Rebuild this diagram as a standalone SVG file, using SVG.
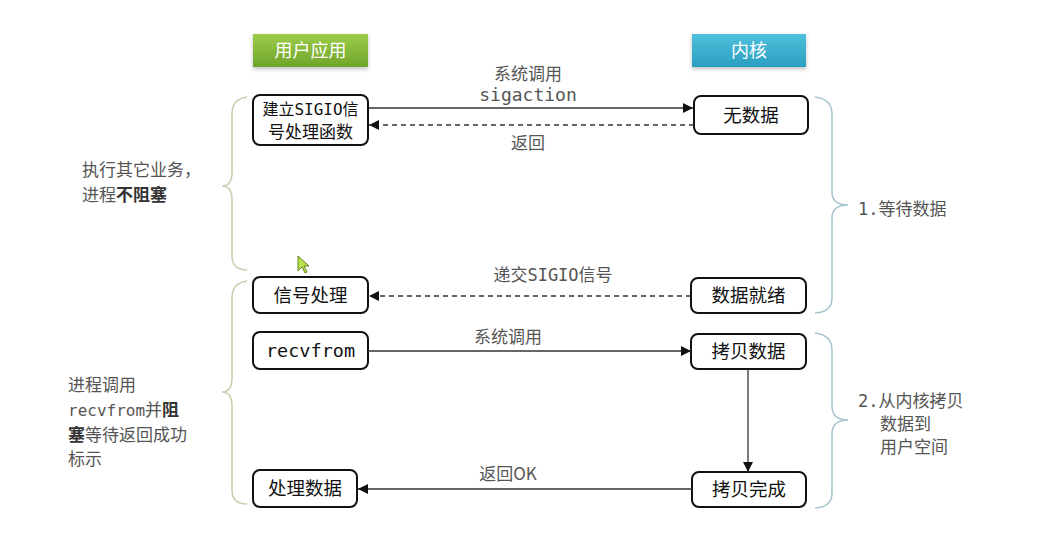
<svg xmlns="http://www.w3.org/2000/svg" width="1062" height="554" viewBox="0 0 1062 554">
  <defs>
    <linearGradient id="gGreen" x1="0" y1="0" x2="0" y2="1">
      <stop offset="0" stop-color="#9ccc4a"/>
      <stop offset="1" stop-color="#6fa52a"/>
    </linearGradient>
    <linearGradient id="gBlue" x1="0" y1="0" x2="0" y2="1">
      <stop offset="0" stop-color="#4fc0dc"/>
      <stop offset="1" stop-color="#2a9ec0"/>
    </linearGradient>
    <filter id="shadow" x="-10%" y="-20%" width="120%" height="150%">
      <feDropShadow dx="0" dy="2" stdDeviation="2" flood-color="#000" flood-opacity="0.25"/>
    </filter>
    <marker id="arrow" viewBox="0 0 10 10" refX="10" refY="5" markerWidth="10" markerHeight="10" markerUnits="userSpaceOnUse" orient="auto">
      <path d="M0,0 L10,5 L0,10 z" fill="#111"/>
    </marker>
  </defs>
  <style>
    .node rect { fill: #fff; stroke: #111; stroke-width: 2; }
    .nt { font-family: "Liberation Sans", "Noto Sans CJK SC", sans-serif; font-size: 18.5px; fill: #111; text-anchor: middle; }
    .hdr { font-family: "Noto Sans CJK SC", sans-serif; font-size: 18px; fill: #fff; text-anchor: middle; }
    .lbl { font-family: "Noto Sans CJK SC", sans-serif; font-size: 17px; fill: #555; text-anchor: middle; }
    .desc { font-family: "Noto Sans CJK SC", sans-serif; font-size: 17px; fill: #555; }
    .mono { font-family: "DejaVu Sans Mono", "Liberation Mono", "Noto Sans CJK SC", monospace; }
    .bold { font-weight: bold; fill: #333; }
    .solid { stroke: #333; stroke-width: 1.3; fill: none; }
    .dash { stroke: #333; stroke-width: 1.3; fill: none; stroke-dasharray: 5 4; }
    .braceL { stroke: #cfcdb0; stroke-width: 1.6; fill: none; }
    .braceR { stroke: #a9c6cf; stroke-width: 1.6; fill: none; }
  </style>

  <rect width="1062" height="554" fill="#fff"/>

  <!-- column headers -->
  <g id="hdr-user">
    <rect x="253" y="34" width="115" height="33" fill="url(#gGreen)" filter="url(#shadow)"/>
    <text class="hdr" x="310.5" y="57">用户应用</text>
  </g>
  <g id="hdr-kernel">
    <rect x="692" y="34" width="114" height="33" fill="url(#gBlue)" filter="url(#shadow)"/>
    <text class="hdr" x="749" y="57">内核</text>
  </g>

  <!-- user-space nodes -->
  <g id="n-setup" class="node">
    <rect x="253" y="95" width="115" height="50" rx="7"/>
    <text class="nt" x="310.5" y="115" style="font-size:16px"><tspan>建立</tspan><tspan class="mono">SIGIO</tspan><tspan>信</tspan></text>
    <text class="nt" x="310.5" y="138" style="font-size:17px">号处理函数</text>
  </g>
  <g id="n-sighandle" class="node">
    <rect x="253" y="277" width="115" height="36" rx="7"/>
    <text class="nt" x="310.5" y="302">信号处理</text>
  </g>
  <g id="n-recvfrom" class="node">
    <rect x="253" y="332" width="115" height="37" rx="7"/>
    <text class="nt mono" x="310.5" y="357">recvfrom</text>
  </g>
  <g id="n-process" class="node">
    <rect x="253" y="470" width="104" height="37" rx="7"/>
    <text class="nt" x="305" y="495">处理数据</text>
  </g>

  <!-- kernel nodes -->
  <g id="n-nodata" class="node">
    <rect x="694" y="96" width="114" height="38" rx="7"/>
    <text class="nt" x="751" y="122">无数据</text>
  </g>
  <g id="n-ready" class="node">
    <rect x="691" y="278" width="115" height="35" rx="7"/>
    <text class="nt" x="748.5" y="302">数据就绪</text>
  </g>
  <g id="n-copy" class="node">
    <rect x="691" y="334" width="115" height="35" rx="7"/>
    <text class="nt" x="748.5" y="358">拷贝数据</text>
  </g>
  <g id="n-copydone" class="node">
    <rect x="692" y="472" width="114" height="35" rx="7"/>
    <text class="nt" x="749" y="496">拷贝完成</text>
  </g>

  <!-- connectors -->
  <g id="connectors">
    <line class="solid" x1="369" y1="108" x2="693" y2="108" marker-end="url(#arrow)"/>
    <text class="lbl" x="528" y="80">系统调用</text>
    <text class="lbl mono" x="528" y="101" style="font-size:18px">sigaction</text>

    <line class="dash" x1="694" y1="125" x2="369" y2="125" marker-end="url(#arrow)"/>
    <text class="lbl" x="528" y="149">返回</text>

    <line class="dash" x1="691" y1="296" x2="369" y2="296" marker-end="url(#arrow)"/>
    <text class="lbl" x="553" y="281"><tspan>递交</tspan><tspan class="mono">SIGIO</tspan><tspan>信号</tspan></text>

    <line class="solid" x1="368" y1="351" x2="691" y2="351" marker-end="url(#arrow)"/>
    <text class="lbl" x="508" y="343">系统调用</text>

    <line class="solid" x1="748" y1="369" x2="748" y2="472" marker-end="url(#arrow)"/>

    <line class="solid" x1="692" y1="489" x2="358" y2="489" marker-end="url(#arrow)"/>
    <text class="lbl" x="508" y="480">返回OK</text>
  </g>

  <!-- braces -->
  <g id="brace-left-1">
    <path class="braceL" d="M247,97 Q232,99 232,114 L232,172 Q232,186 222,186 Q232,186 232,200 L232,256 Q232,270 247,270"/>
  </g>
  <g id="brace-left-2">
    <path class="braceL" d="M247,281 Q232,283 232,298 L232,378 Q232,392 222,392 Q232,392 232,406 L232,490 Q232,504 247,504"/>
  </g>
  <g id="brace-right-1">
    <path class="braceR" d="M815,97 Q832,99 832,114 L832,192 Q832,205 848,205 Q832,205 832,218 L832,298 Q832,312 815,313"/>
  </g>
  <g id="brace-right-2">
    <path class="braceR" d="M815,333 Q832,335 832,350 L832,406 Q832,420 848,420 Q832,420 832,434 L832,493 Q832,507 815,508"/>
  </g>

  <!-- side descriptions -->
  <g id="desc-left-1">
    <text class="desc" x="82" y="176">执行其它业务，</text>
    <text class="desc" x="82" y="201">进程<tspan class="bold">不阻塞</tspan></text>
  </g>
  <g id="desc-left-2">
    <text class="desc" x="68" y="391">进程调用</text>
    <text class="desc" x="68" y="416"><tspan class="mono" style="font-size:16px">recvfrom</tspan>并<tspan class="bold">阻</tspan></text>
    <text class="desc" x="68" y="441"><tspan class="bold">塞</tspan>等待返回成功</text>
    <text class="desc" x="68" y="465">标示</text>
  </g>
  <g id="desc-right-1">
    <text class="desc" x="858" y="215"><tspan class="mono">1.</tspan>等待数据</text>
  </g>
  <g id="desc-right-2">
    <text class="desc" x="858" y="407"><tspan class="mono">2.</tspan>从内核拷贝</text>
    <text class="desc" x="880" y="430">数据到</text>
    <text class="desc" x="880" y="453">用户空间</text>
  </g>

  <!-- mouse pointer -->
  <g id="pointer">
    <path d="M298,256 L298,271 L302,267 L305,273 L307,272 L304,266 L309,266 z" fill="#b8e04a" stroke="#4a6a10" stroke-width="0.8"/>
  </g>
</svg>
